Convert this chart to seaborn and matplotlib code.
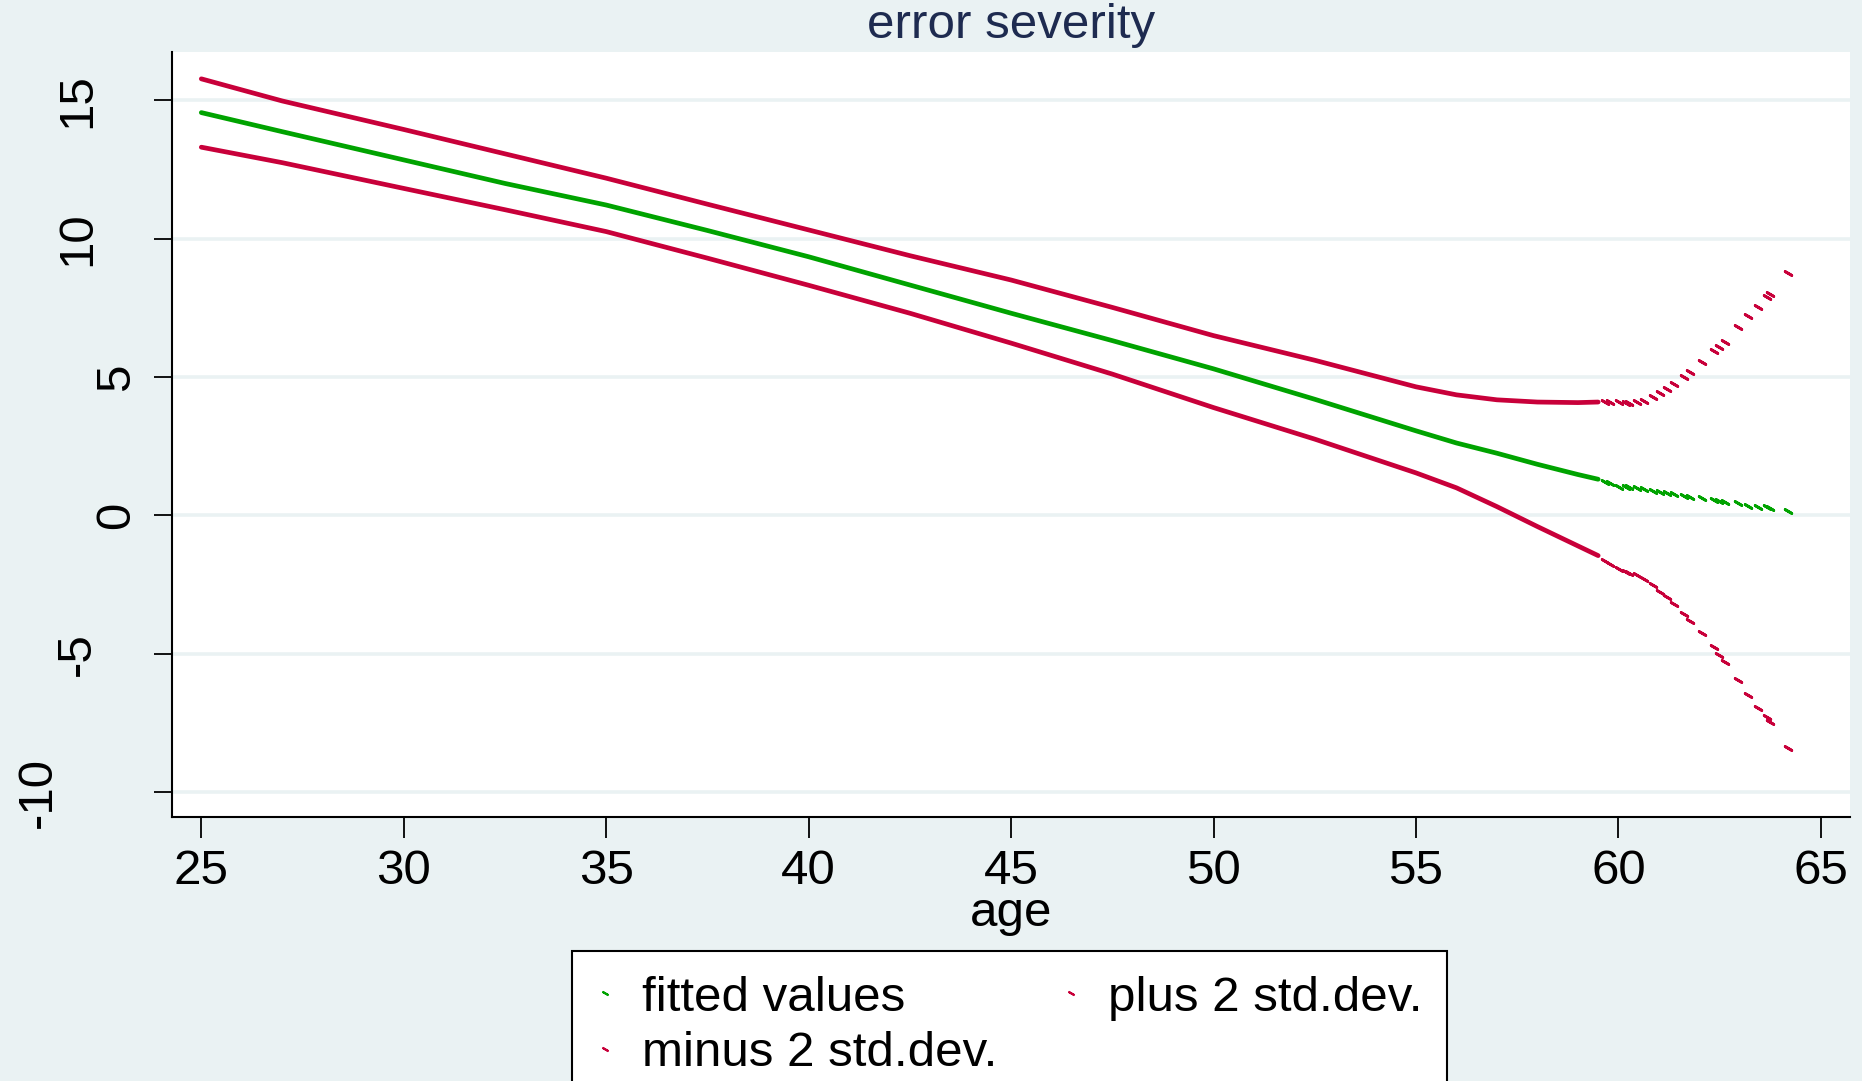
import matplotlib
matplotlib.use("Agg")
import matplotlib.pyplot as plt
import matplotlib.transforms as mtransforms
from matplotlib.lines import Line2D
import seaborn as sns
import pandas as pd

# ---------------- data ----------------
dense_age = [25, 27, 30, 32.5, 35, 37.5, 40, 42.5, 45, 47.5, 50, 52.5, 55, 56, 57, 58, 59, 59.5]
fit_dense = [14.56, 13.87, 12.85, 12.0, 11.22, 10.3, 9.35, 8.33, 7.31, 6.32, 5.3, 4.2, 3.06, 2.62, 2.25, 1.85, 1.48, 1.31]
plus_dense = [15.78, 14.98, 13.95, 13.07, 12.19, 11.25, 10.32, 9.39, 8.51, 7.52, 6.5, 5.61, 4.65, 4.36, 4.18, 4.1, 4.08, 4.1]
minus_dense = [13.31, 12.75, 11.82, 11.05, 10.26, 9.3, 8.32, 7.31, 6.23, 5.11, 3.9, 2.76, 1.54, 1.0, 0.32, -0.4, -1.1, -1.45]

sparse_age = [59.67, 59.79, 60.02, 60.19, 60.27, 60.45, 60.63, 60.85, 61.03, 61.19, 61.37, 61.62,
              61.78, 62.06, 62.36, 62.49, 62.63, 62.96, 63.21, 63.45, 63.66, 63.74, 64.2]
fit_sparse = [1.20, 1.16, 1.04, 1.02, 1.02, 0.98, 0.95, 0.89, 0.84, 0.80, 0.77, 0.72,
              0.68, 0.62, 0.56, 0.52, 0.50, 0.44, 0.35, 0.31, 0.30, 0.28, 0.16]
plus_sparse = [4.10, 4.10, 4.09, 4.08, 4.08, 4.10, 4.15, 4.29, 4.41, 4.56, 4.74, 5.0,
               5.2, 5.55, 5.95, 6.1, 6.27, 6.8, 7.2, 7.55, 7.9, 8.0, 8.75]
minus_sparse = [-1.65, -1.75, -1.95, -2.05, -2.07, -2.15, -2.3, -2.5, -2.75, -2.95, -3.2, -3.55,
                -3.8, -4.25, -4.75, -5.05, -5.3, -5.95, -6.5, -6.95, -7.3, -7.45, -8.4]

x_ticks = [25, 30, 35, 40, 45, 50, 55, 60, 65]
y_ticks = [-10, -5, 0, 5, 10, 15]
y_tick_labels = ["-10", "-5", "0", "5", "10", "15"]
series_labels = ["fitted values", "minus 2 std.dev.", "plus 2 std.dev."]
title_text = "error severity"
x_label = "age"

# ---------------- style ----------------
BG = "#EAF2F3"
GREEN = "#00A300"
RED = "#C8003A"
TITLE_C = "#1E2B50"

sns.set_theme(style="white")
plt.rcParams["font.family"] = ["Liberation Sans", "DejaVu Sans"]
plt.rcParams["text.color"] = "black"
plt.rcParams["axes.labelcolor"] = "black"
FS = 35.5

W, H = 1862, 1081
fig = plt.figure(figsize=(W / 100, H / 100), dpi=100, facecolor=BG)
L, R, T, B = 172, 1850, 52, 817
ax = fig.add_axes([L / W, 1 - B / H, (R - L) / W, (B - T) / H])
ax.set_facecolor("white")

dense = pd.DataFrame({"age": dense_age, "fit": fit_dense, "plus": plus_dense, "minus": minus_dense})
sparse = pd.DataFrame({"age": sparse_age, "fit": fit_sparse, "plus": plus_sparse, "minus": minus_sparse})

for col, c in [("plus", RED), ("minus", RED), ("fit", GREEN)]:
    sns.lineplot(data=dense, x="age", y=col, ax=ax, color=c, linewidth=3.4,
                 estimator=None, sort=False, zorder=3)
    sns.scatterplot(data=sparse, x="age", y=col, ax=ax, color=c, marker=(2, 2, 60),
                    s=30, linewidths=2.0, zorder=3)

ax.set_xlim(24.276, 65.72)
ax.set_ylim(-10.896, 16.75)

# grid lines
ax.set_yticks(y_ticks)
ax.yaxis.grid(True, color=BG, linewidth=2.6)
ax.xaxis.grid(False)
ax.set_axisbelow(True)

for s in ["top", "right"]:
    ax.spines[s].set_visible(False)
for s in ["left", "bottom"]:
    ax.spines[s].set_color("black")
    ax.spines[s].set_linewidth(1.5)

ax.set_xticks(x_ticks)
ax.set_xticklabels([str(v) for v in x_ticks])
ax.tick_params(axis="x", direction="out", length=15, width=1.3, color="black",
               labelsize=FS, labelcolor="black", pad=8, bottom=True)
ax.tick_params(axis="y", direction="out", length=13, width=1.3, color="black",
               labelleft=False, left=True)

# rotated y tick labels (Stata-like placement)
trans = mtransforms.blended_transform_factory(fig.transFigure, ax.transData)
for v, lab in zip(y_ticks, y_tick_labels):
    xc = 117 - 39.5 * (len(lab) - 1)
    ax.text(xc / W, v, lab, rotation=90, ha="center", va="center", fontsize=FS,
            color="black", transform=trans, clip_on=False)

ax.set_xlabel(x_label, fontsize=FS, color="black")
ax.xaxis.set_label_coords(0.5, -(891 - B) / (B - T))
ax.set_ylabel("")

fig.text(1011 / W, 1 - 38 / H, title_text, ha="center", va="baseline", fontsize=FS,
         color=TITLE_C)

# legend
mk = dict(linestyle="none", marker=(2, 2, 60), markersize=5, markeredgewidth=1.5)
handles = [
    Line2D([], [], color=GREEN, **mk),
    Line2D([], [], color=RED, **mk),
    Line2D([], [], color=RED, **mk),
]
leg = fig.legend(handles, series_labels, loc="upper left", bbox_to_anchor=(572 / W, 1 - 951 / H),
                 ncol=2, frameon=True, fancybox=False, edgecolor="black", facecolor="white",
                 framealpha=1, fontsize=FS, borderpad=0.5, handlelength=0.34, handletextpad=0.58,
                 columnspacing=1.33, labelspacing=0.22, borderaxespad=0)
leg.get_frame().set_linewidth(1.5)
for t in leg.get_texts():
    t.set_color("black")

fig.savefig("out.png", dpi=100, facecolor=BG)
